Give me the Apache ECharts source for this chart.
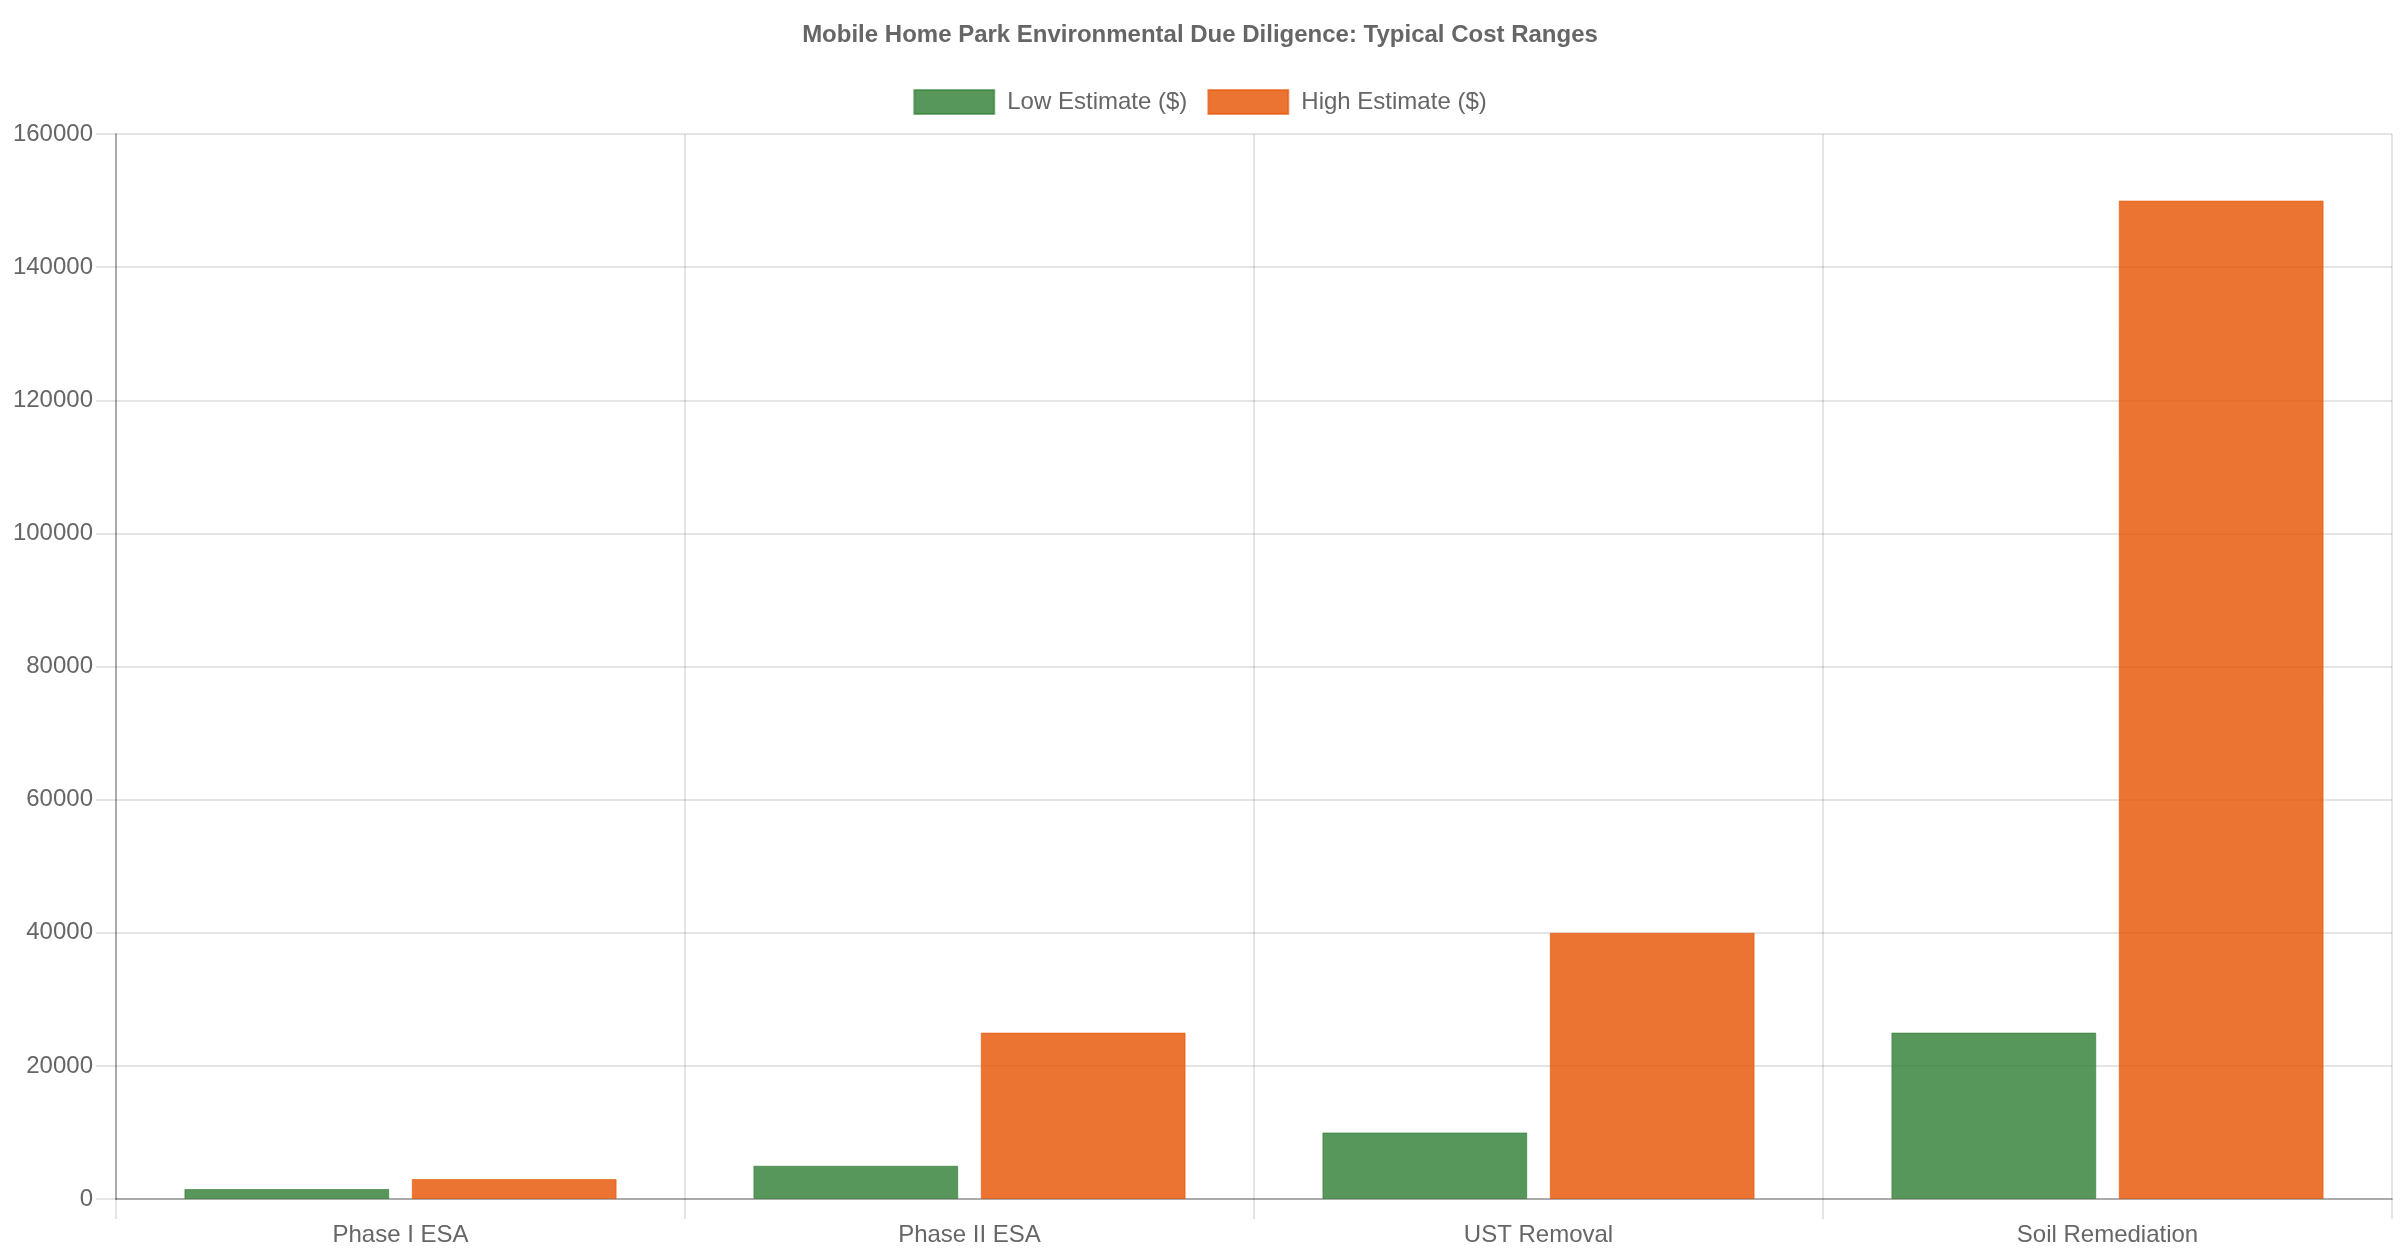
<!DOCTYPE html>
<html>
<head>
<meta charset="utf-8">
<script src="https://cdn.jsdelivr.net/npm/echarts@6/dist/echarts.min.js"></script>
<style>
  html, body { margin: 0; padding: 0; background: #fff; }
  #chart { width: 2400px; height: 1260px; }
</style>
</head>
<body>
<div id="chart"></div>
<script>
// 数据
var categories = ['Phase I ESA', 'Phase II ESA', 'UST Removal', 'Soil Remediation'];
var lowEstimate = [1500, 5000, 10000, 25000];
var highEstimate = [3000, 25000, 40000, 150000];
var yTicks = [0, 20000, 40000, 60000, 80000, 100000, 120000, 140000, 160000];

var font = "'Liberation Sans', Arial, sans-serif";
var textColor = '#666';

var myChart = echarts.init(document.getElementById('chart'));

var option = {
    animation: false,
    backgroundColor: '#fff',
    title: {
        text: 'Mobile Home Park Environmental Due Diligence: Typical Cost Ranges',
        left: 'center',
        top: 23,
        padding: 0,
        textStyle: {
            fontFamily: font,
            fontSize: 24,
            fontWeight: 'bold',
            color: textColor
        }
    },
    legend: {
        top: 89,
        left: 'center',
        padding: 0,
        itemWidth: 80,
        itemHeight: 24,
        itemGap: 20,
        icon: 'rect',
        textStyle: {
            fontFamily: font,
            fontSize: 24,
            color: textColor,
            padding: [0, 0, 0, 8]
        },
        data: ['Low Estimate ($)', 'High Estimate ($)']
    },
    grid: {
        left: 116,
        right: 8,
        top: 134,
        bottom: 61,
        containLabel: false
    },
    xAxis: {
        type: 'category',
        data: categories,
        axisLine: { lineStyle: { color: 'rgba(0,0,0,0.25)', width: 2 } },
        axisTick: { show: true, length: 20, lineStyle: { color: 'rgba(0,0,0,0.1)', width: 2 } },
        splitLine: { show: true, lineStyle: { color: 'rgba(0,0,0,0.1)', width: 2 } },
        axisLabel: {
            margin: 24,
            fontFamily: font,
            fontSize: 24,
            color: textColor
        }
    },
    yAxis: {
        type: 'value',
        min: yTicks[0],
        max: yTicks[yTicks.length - 1],
        interval: yTicks[1] - yTicks[0],
        axisLine: { show: true, lineStyle: { color: 'rgba(0,0,0,0.25)', width: 2 } },
        axisTick: { show: true, length: 20, lineStyle: { color: 'rgba(0,0,0,0.1)', width: 2 } },
        splitLine: { show: true, lineStyle: { color: 'rgba(0,0,0,0.1)', width: 2 } },
        axisLabel: {
            margin: 23,
            fontFamily: font,
            fontSize: 24,
            color: textColor,
            formatter: function (v) { return String(v); }
        }
    },
    series: [
        {
            name: 'Low Estimate ($)',
            type: 'bar',
            data: lowEstimate,
            barWidth: '36%',
            barGap: '11%',
            itemStyle: {
                color: 'rgba(46,125,50,0.8)',
                borderColor: 'rgba(46,125,50,0.6)',
                borderWidth: 1
            }
        },
        {
            name: 'High Estimate ($)',
            type: 'bar',
            data: highEstimate,
            barWidth: '36%',
            itemStyle: {
                color: 'rgba(230,81,0,0.8)',
                borderColor: 'rgba(230,81,0,0.6)',
                borderWidth: 1
            }
        }
    ]
};

myChart.setOption(option);
</script>
</body>
</html>
